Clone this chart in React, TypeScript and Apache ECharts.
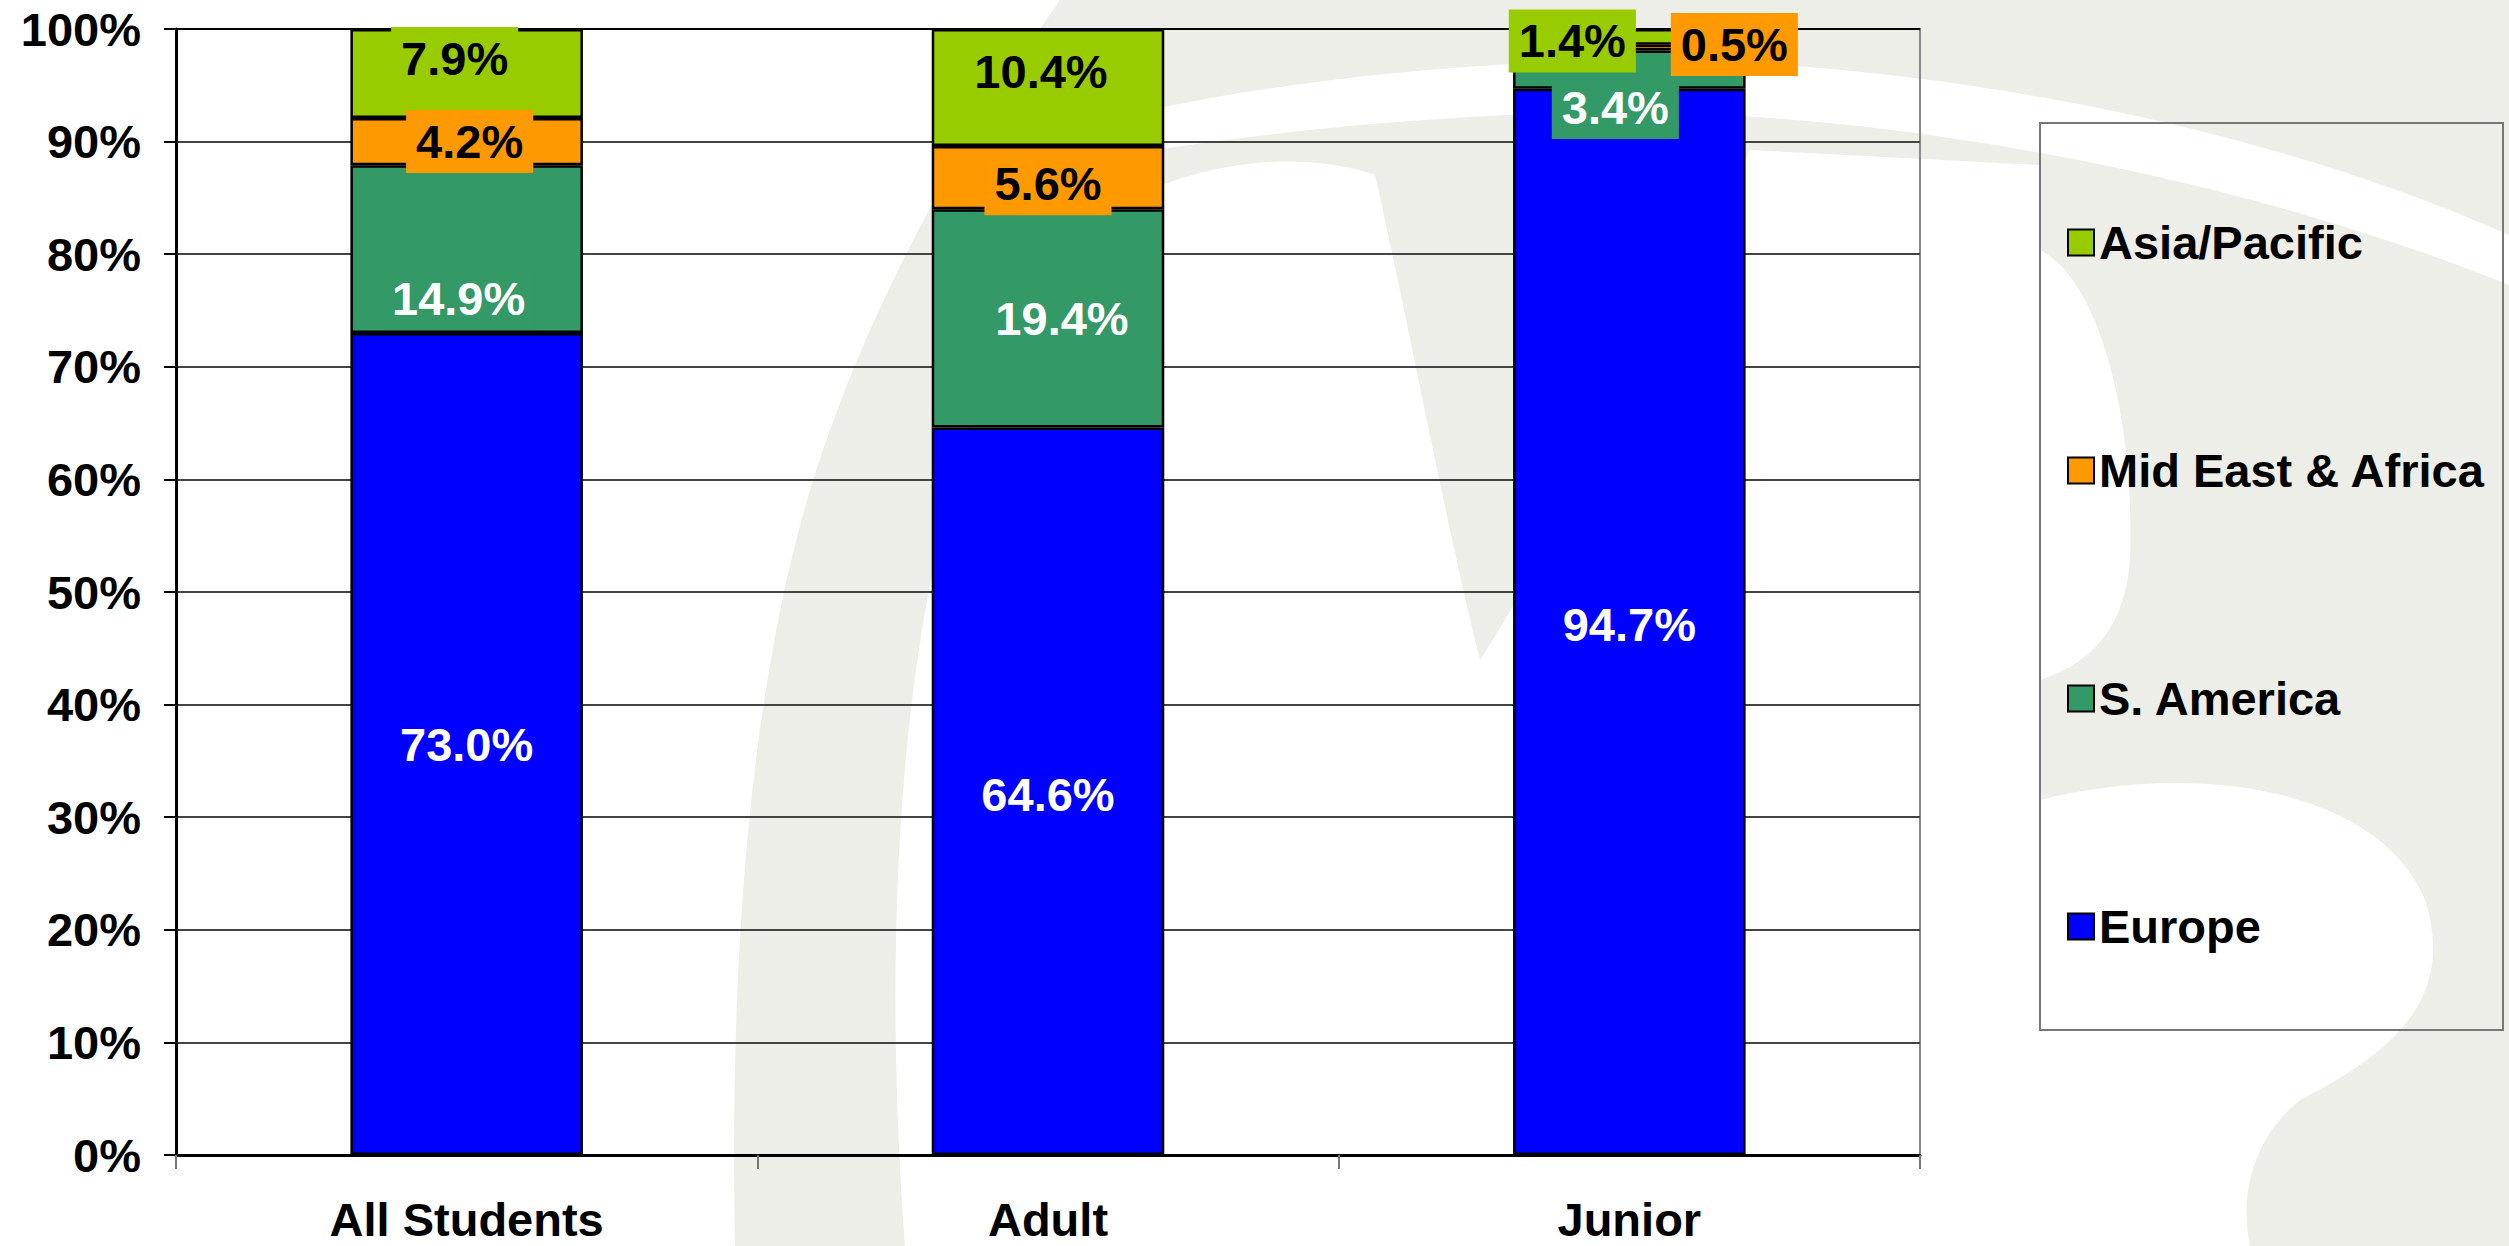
import React, { useEffect, useRef } from "react";
import * as echarts from "echarts";

const categories = ["All Students", "Adult", "Junior"];
const europe = [73.0, 64.6, 94.7];
const sAmerica = [14.9, 19.4, 3.4];
const midEastAfrica = [4.2, 5.6, 0.5];
const asiaPacific = [7.9, 10.4, 1.4];
const legendOrder = ["Asia/Pacific", "Mid East & Africa", "S. America", "Europe"];

const FONT = "'Liberation Sans', Arial, Helvetica, sans-serif";
const GRAY = "#eeeee9";

// manual label placements (pixels) as in the source chart
const labelNudges: Record<string, number[][]> = {
  Europe: [[0, 0], [0, 3], [0, 3]],
  "S. America": [[-8, 49], [14, 0], [-14, 38]],
  "Mid East & Africa": [[3, 0], [0, 6], [105, -3]],
  "Asia/Pacific": [[-12, -15], [-7, -16], [-57, 4]],
};

// faint background watermark (first shape gray, the rest white cut-outs)
const wmShapes: [string, string][] = [
  ["wmGray", "M735 1246 C728 900 760 620 830 430 C880 290 960 140 1060 0 L2509 0 L2509 1246 Z"],
  ["wmWhiteC", "M905 1246 C885 980 895 700 950 500 C990 360 1050 250 1120 205 C1200 160 1300 150 1375 175 C1410 330 1445 520 1480 660 C1570 520 1660 330 1750 150 L2040 165 L2040 1246 Z"],
  ["wmWhiteStripe", "M900 195 C1050 115 1300 70 1600 60 C1900 55 2250 120 2509 235 L2509 285 C2250 180 1900 110 1600 112 C1300 118 1080 160 900 195 Z"],
  ["wmWhiteBlob", "M2040 800 C2200 760 2380 790 2425 900 C2450 980 2420 1040 2300 1100 C2250 1140 2240 1200 2250 1246 L2040 1246 Z"],
  ["wmWhiteLeft", "M2040 250 C2100 280 2135 420 2130 560 C2125 620 2100 660 2040 680 Z"],
];
wmShapes.forEach(([name, d]) => {
  echarts.graphic.registerShape(name, echarts.graphic.extendPath(d, {}) as any);
});

export default function App() {
  const ref = useRef<HTMLDivElement>(null);
  useEffect(() => {
    if (!ref.current) return;
    const chart = echarts.init(ref.current, null, { renderer: "svg" });
    const defs = [
      { name: "Europe", data: europe, color: "#0000FF", text: "#ffffff" },
      { name: "S. America", data: sAmerica, color: "#339966", text: "#ffffff" },
      { name: "Mid East & Africa", data: midEastAfrica, color: "#FF9900", text: "#000000" },
      { name: "Asia/Pacific", data: asiaPacific, color: "#99CC00", text: "#000000" },
    ];
    const splitColors = ["#000"].concat(Array(9).fill("#444")).concat(["#000"]);
    const option: any = {
      animation: false,
      backgroundColor: "#ffffff",
      textStyle: { fontFamily: FONT },
      graphic: [
        ...wmShapes.map(([name], i) => ({
          type: name,
          x: 0,
          y: 0,
          silent: true,
          z: -10 + i,
          style: { fill: i === 0 ? GRAY : "#ffffff" },
        })),
        {
          type: "rect",
          silent: true,
          z: 0,
          shape: { x: 2040, y: 123, width: 463, height: 907 },
          style: { fill: "none", stroke: "#777", lineWidth: 2 },
        },
      ],
      grid: {
        left: 176,
        right: 589,
        top: 29,
        bottom: 91,
        show: true,
        backgroundColor: "transparent",
        borderColor: "#888",
        borderWidth: 2,
      },
      legend: {
        data: legendOrder,
        orient: "vertical",
        left: 2062,
        top: 214,
        itemGap: 181,
        itemWidth: 26,
        itemHeight: 26,
        icon: "rect",
        itemStyle: { borderColor: "#000", borderWidth: 2 },
        textStyle: { fontSize: 47, fontWeight: "bold", color: "#000", fontFamily: FONT, lineHeight: 46 },
      },
      xAxis: {
        type: "category",
        data: categories,
        axisLine: { lineStyle: { color: "#000", width: 3 } },
        axisTick: { show: true, length: 14, alignWithLabel: false, lineStyle: { color: "#777", width: 2 } },
        axisLabel: { fontSize: 47, fontWeight: "bold", color: "#000", margin: 42, lineHeight: 44, fontFamily: FONT },
      },
      yAxis: {
        type: "value",
        min: 0,
        max: 100,
        interval: 10,
        axisLine: { show: true, lineStyle: { color: "#000", width: 3 } },
        axisTick: { show: true, length: 12, lineStyle: { color: "#000", width: 2 } },
        axisLabel: { formatter: "{value}%", fontSize: 47, fontWeight: "bold", color: "#000", margin: 35, fontFamily: FONT },
        splitLine: { show: true, lineStyle: { color: splitColors, width: 2 } },
      },
      series: defs.map((s) => ({
        name: s.name,
        type: "bar",
        stack: "total",
        barWidth: "40%",
        itemStyle: { color: s.color, borderColor: "#000", borderWidth: 2.5 },
        label: {
          show: true,
          position: "inside",
          formatter: (p: any) => Number(p.value).toFixed(1) + "%",
          color: s.text,
          fontSize: 47,
          fontWeight: "bold",
          fontFamily: FONT,
          backgroundColor: s.color,
          padding: [9, 10, 8, 10],
          lineHeight: 46,
        },
        data: s.data.map((v, i) => ({ value: v, label: { offset: labelNudges[s.name][i] } })),
      })),
    };
    chart.setOption(option);
    return () => chart.dispose();
  }, []);
  return (
    <div
      ref={ref}
      style={{ position: "absolute", left: 0, top: 0, width: 2509, height: 1246 }}
    />
  );
}
